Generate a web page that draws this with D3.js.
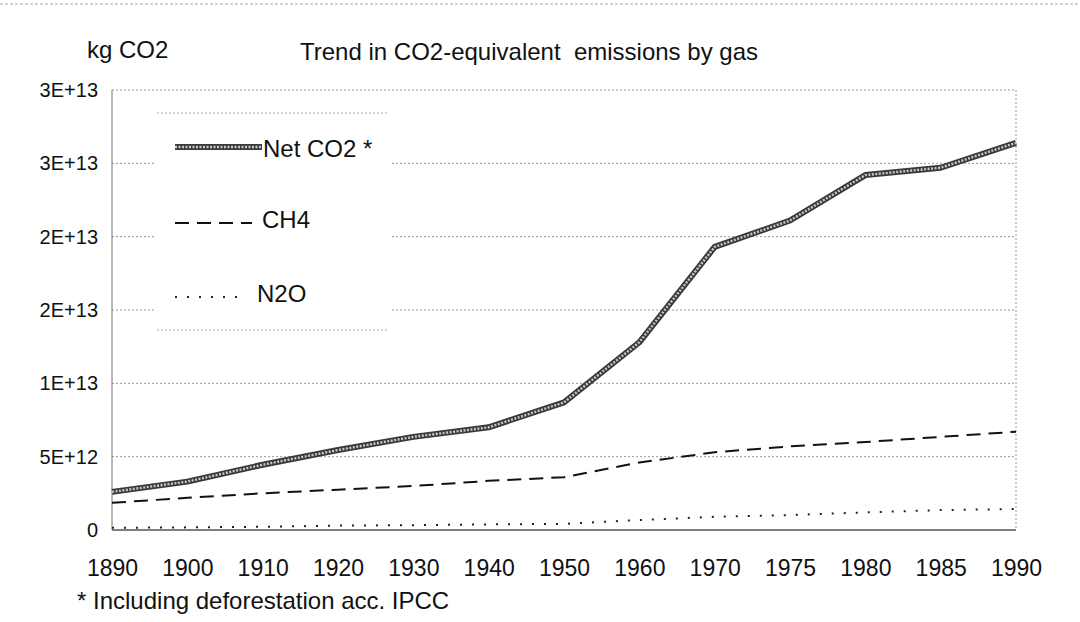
<!DOCTYPE html>
<html>
<head>
<meta charset="utf-8">
<script src="https://cdn.jsdelivr.net/npm/d3@7"></script>
<style>
  html, body { margin: 0; padding: 0; background: #fff; }
  svg { display: block; font-family: "Liberation Sans", Arial, sans-serif; }
</style>
</head>
<body>
<svg id="chart" width="1080" height="622"></svg>
<script>
// categories on the x axis (unequal year steps, equally spaced like the original)
var years = ["1890", "1900", "1910", "1920", "1930", "1940", "1950", "1960", "1970", "1975", "1980", "1985", "1990"];

// kg CO2-equivalent
var netCO2 = [2.6e12, 3.3e12, 4.45e12, 5.45e12, 6.35e12, 7.0e12, 8.7e12, 12.8e12, 19.3e12, 21.1e12, 24.2e12, 24.7e12, 26.4e12];
var ch4 = [1.85e12, 2.2e12, 2.5e12, 2.75e12, 3.0e12, 3.35e12, 3.6e12, 4.6e12, 5.3e12, 5.7e12, 6.0e12, 6.35e12, 6.7e12];
var n2o = [0.15e12, 0.18e12, 0.22e12, 0.3e12, 0.33e12, 0.38e12, 0.42e12, 0.68e12, 0.9e12, 1.02e12, 1.2e12, 1.36e12, 1.43e12];

var yTicks = [0, 5e12, 1e13, 1.5e13, 2e13, 2.5e13, 3e13];

var chartTitle = "Trend in CO2-equivalent\u00a0 emissions by gas";
var yTitle = "kg CO2";
var footnote = "* Including deforestation acc. IPCC";
var legendNames = ["Net CO2 *", "CH4", "N2O"];

(function () {
  var svg = d3.select("#chart");
  var pLeft = 112, pRight = 1016, pTop = 90, pBottom = 530;

  var x = d3.scalePoint().domain(years).range([pLeft, pRight]).padding(0);
  var y = d3.scaleLinear().domain([0, 3e13]).range([pBottom, pTop]);

  function fmt(v) {
    if (v === 0) return "0";
    return v.toExponential(0).replace("e", "E");
  }

  // scan edge at the very top
  svg.append("line")
    .attr("x1", 0).attr("x2", 1080).attr("y1", 4).attr("y2", 4)
    .attr("stroke", "#aaa").attr("stroke-width", 1).attr("stroke-dasharray", "3,2");

  // gridlines
  svg.append("g")
    .selectAll("line")
    .data(yTicks.filter(function (d) { return d > 0; }))
    .join("line")
    .attr("x1", pLeft).attr("x2", pRight)
    .attr("y1", function (d) { return y(d); })
    .attr("y2", function (d) { return y(d); })
    .attr("stroke", "#999")
    .attr("stroke-width", 1)
    .attr("stroke-dasharray", "2,2");

  // frame
  svg.append("line").attr("x1", pLeft).attr("x2", pLeft).attr("y1", pTop).attr("y2", pBottom)
    .attr("stroke", "#777").attr("stroke-width", 1);
  svg.append("line").attr("x1", pRight).attr("x2", pRight).attr("y1", pTop).attr("y2", pBottom)
    .attr("stroke", "#999").attr("stroke-width", 1).attr("stroke-dasharray", "2,2");
  svg.append("line").attr("x1", pLeft).attr("x2", pRight).attr("y1", pBottom).attr("y2", pBottom)
    .attr("stroke", "#555").attr("stroke-width", 1.3);

  // y axis labels
  var yAxis = d3.axisLeft(y).tickValues(yTicks).tickFormat(fmt).tickSize(0).tickPadding(14);
  var gy = svg.append("g").attr("transform", "translate(" + pLeft + ",0)").call(yAxis);
  gy.select(".domain").remove();
  gy.selectAll("text")
    .attr("fill", "#111")
    .style("font-size", "20px")
    .style("font-family", "Liberation Sans, Arial, sans-serif");

  // x axis labels
  var xAxis = d3.axisBottom(x).tickSize(0).tickPadding(30);
  var gx = svg.append("g").attr("transform", "translate(0," + pBottom + ")").call(xAxis);
  gx.select(".domain").remove();
  gx.selectAll("text")
    .attr("fill", "#111")
    .style("font-size", "23px")
    .style("font-family", "Liberation Sans, Arial, sans-serif");

  // series
  var line = d3.line()
    .x(function (d, i) { return x(years[i]); })
    .y(function (d) { return y(d); });

  svg.append("path").datum(ch4)
    .attr("fill", "none").attr("stroke", "#111").attr("stroke-width", 2)
    .attr("stroke-dasharray", "14,8").attr("d", line);

  svg.append("path").datum(n2o)
    .attr("fill", "none").attr("stroke", "#222").attr("stroke-width", 2)
    .attr("stroke-dasharray", "2,10").attr("d", line);

  svg.append("path").datum(netCO2)
    .attr("fill", "none").attr("stroke", "#3a3a3a").attr("stroke-width", 6)
    .attr("stroke-linejoin", "round").attr("d", line);
  svg.append("path").datum(netCO2)
    .attr("fill", "none").attr("stroke", "#c8c8c8").attr("stroke-width", 2.4)
    .attr("stroke-dasharray", "2,1.5").attr("d", line);

  // legend box
  var lg = svg.append("g");
  lg.append("rect")
    .attr("x", 155).attr("y", 113).attr("width", 235).attr("height", 217)
    .attr("fill", "#fff");
  lg.append("line").attr("x1", 157).attr("x2", 387).attr("y1", 113).attr("y2", 113)
    .attr("stroke", "#aaa").attr("stroke-dasharray", "2,2");
  lg.append("line").attr("x1", 157).attr("x2", 387).attr("y1", 330).attr("y2", 330)
    .attr("stroke", "#aaa").attr("stroke-dasharray", "2,2");

  var legY = [147, 223, 297];
  var legEnd = [262, 252, 247];
  lg.append("line").attr("x1", 175).attr("x2", legEnd[0]).attr("y1", legY[0]).attr("y2", legY[0])
    .attr("stroke", "#3a3a3a").attr("stroke-width", 6);
  lg.append("line").attr("x1", 175).attr("x2", legEnd[0]).attr("y1", legY[0]).attr("y2", legY[0])
    .attr("stroke", "#c8c8c8").attr("stroke-width", 2.4).attr("stroke-dasharray", "2,1.5");
  lg.append("line").attr("x1", 175).attr("x2", legEnd[1]).attr("y1", legY[1]).attr("y2", legY[1])
    .attr("stroke", "#111").attr("stroke-width", 2).attr("stroke-dasharray", "14,8");
  lg.append("line").attr("x1", 175).attr("x2", legEnd[2]).attr("y1", legY[2]).attr("y2", legY[2])
    .attr("stroke", "#222").attr("stroke-width", 2).attr("stroke-dasharray", "2,10");

  lg.selectAll("text.leg")
    .data(legendNames)
    .join("text")
    .attr("class", "leg")
    .attr("x", function (d, i) { return legEnd[i] + (i === 0 ? 1 : 10); })
    .attr("y", function (d, i) { return [157, 228, 302][i]; })
    .attr("fill", "#111")
    .style("font-size", "24px")
    .text(function (d) { return d; });

  // titles
  svg.append("text").attr("x", 87).attr("y", 58).attr("fill", "#111")
    .style("font-size", "24px").text(yTitle);
  svg.append("text").attr("x", 300).attr("y", 60).attr("fill", "#111")
    .style("font-size", "24px").text(chartTitle);
  svg.append("text").attr("x", 77).attr("y", 609).attr("fill", "#111")
    .style("font-size", "24px").text(footnote);
})();
</script>
</body>
</html>
